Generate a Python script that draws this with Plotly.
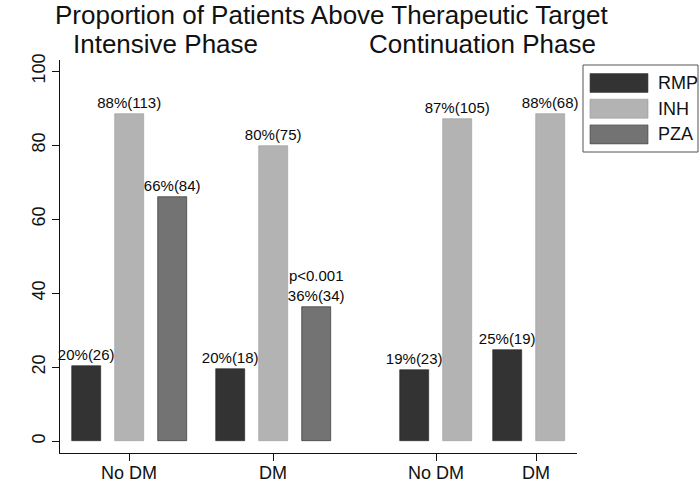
import plotly.graph_objects as go

# ---------------- data ----------------
group_labels = ["No DM", "DM", "No DM", "DM"]
series_names = ["RMP", "INH", "PZA"]
series_colors = ["#333333", "#b3b3b3", "#737373"]

# percentage above therapeutic target per group (No DM / DM intensive, No DM / DM continuation)
rmp_pct = [20.3, 19.5, 19.3, 24.7]
inh_pct = [88.4, 79.7, 87.0, 88.4]
pza_pct = [66.0, 36.3]           # PZA only in intensive phase
rmp_n = [26, 18, 23, 19]
inh_n = [113, 75, 105, 68]
pza_n = [84, 34]
pza_note = ["", "p<0.001"]

title_main = "Proportion of Patients Above Therapeutic Target"
phase_titles = ["Intensive Phase", "Continuation Phase"]
y_ticks = [0, 20, 40, 60, 80, 100]

# ---------------- layout (pixel based) ----------------
W, H = 700, 482
L, R, T, B = 60, 577, 60, 453       # plot region in px
bar_w = 29
pitch = 43
group_first = [86, 230.5, 414.5, 507.5]   # centre of first bar in each group (px)
group_tick = [129, 273, 436, 536]


def xd(px):
    return px - L


def px2paper(px, py):
    return (px - L) / (R - L), (B - py) / (B - T)


def label(p, n, note=""):
    s = f"{round(p)}%({n})"
    return f"{note}<br>{s}" if note else s


fig = go.Figure()
all_series = [(rmp_pct, rmp_n, None), (inh_pct, inh_n, None), (pza_pct, pza_n, pza_note)]
for si, (vals, ns, notes) in enumerate(all_series):
    xs = [xd(group_first[g] + si * pitch) for g in range(len(vals))]
    texts = [label(v, n, notes[i] if notes else "") for i, (v, n) in enumerate(zip(vals, ns))]
    fig.add_trace(go.Bar(
        x=xs, y=vals, width=[bar_w] * len(vals), name=series_names[si],
        marker=dict(color=series_colors[si], line=dict(color="#222222" if si != 1 else "#9a9a9a", width=0.6)),
        text=texts, textposition="outside", constraintext="none", cliponaxis=False,
        textfont=dict(family="Liberation Sans, Arial, sans-serif", size=15, color="#0a0a0a"),
        showlegend=False, hoverinfo="skip",
    ))

annotations = []
# main title & phase titles
for txt, cx, cy in [(title_main, 331, 15), (phase_titles[0], 165, 44), (phase_titles[1], 482, 44)]:
    px_, py_ = px2paper(cx, cy)
    annotations.append(dict(text=txt, x=px_, y=py_, xref="paper", yref="paper",
                            xanchor="center", yanchor="middle", showarrow=False,
                            font=dict(family="Liberation Sans, Arial, sans-serif", size=26, color="#111111")))

# manual legend
shapes = []
bx0, by0 = px2paper(583, 65)
bx1, by1 = px2paper(698, 152)
shapes.append(dict(type="rect", xref="paper", yref="paper", x0=bx0, y0=by0, x1=bx1, y1=by1,
                   line=dict(color="#555555", width=1), fillcolor="white"))
for i, name in enumerate(series_names):
    cy = 83 + i * 25.7
    sx0, sy0 = px2paper(590, cy - 9.5)
    sx1, sy1 = px2paper(648, cy + 9.5)
    shapes.append(dict(type="rect", xref="paper", yref="paper", x0=sx0, y0=sy0, x1=sx1, y1=sy1,
                       line=dict(color="#444444" if i != 1 else "#999999", width=0.6),
                       fillcolor=series_colors[i]))
    tx, ty = px2paper(656, cy)
    annotations.append(dict(text=name, x=tx, y=ty, xref="paper", yref="paper",
                            xanchor="left", yanchor="middle", showarrow=False,
                            font=dict(family="Liberation Sans, Arial, sans-serif", size=18, color="#111111")))

fig.update_layout(
    width=W, height=H,
    margin=dict(l=L, r=W - R, t=T, b=H - B, pad=0, autoexpand=False),
    paper_bgcolor="white", plot_bgcolor="white",
    bargap=0, barmode="overlay",
    annotations=annotations, shapes=shapes,
    font=dict(family="Liberation Sans, Arial, sans-serif", size=18, color="#111111"),
    xaxis=dict(range=[0, R - L], tickvals=[xd(t) for t in group_tick], ticktext=group_labels,
               showline=True, linecolor="#111111", linewidth=1, ticks="outside", ticklen=7,
               tickcolor="#111111", showgrid=False, zeroline=False, automargin=False,
               ticklabelstandoff=-4, tickfont=dict(size=18)),
    yaxis=dict(range=[-3.2, 103], tickvals=y_ticks, tickangle=-90,
               showline=True, linecolor="#111111", linewidth=1, ticks="outside", ticklen=7,
               tickcolor="#111111", showgrid=False, zeroline=False, automargin=False,
               tickfont=dict(size=18)),
)

fig.write_html(
    "out.html",
    config={"displayModeBar": False},
    post_script="document.body.style.margin='0';document.body.style.overflow='hidden';",
)
